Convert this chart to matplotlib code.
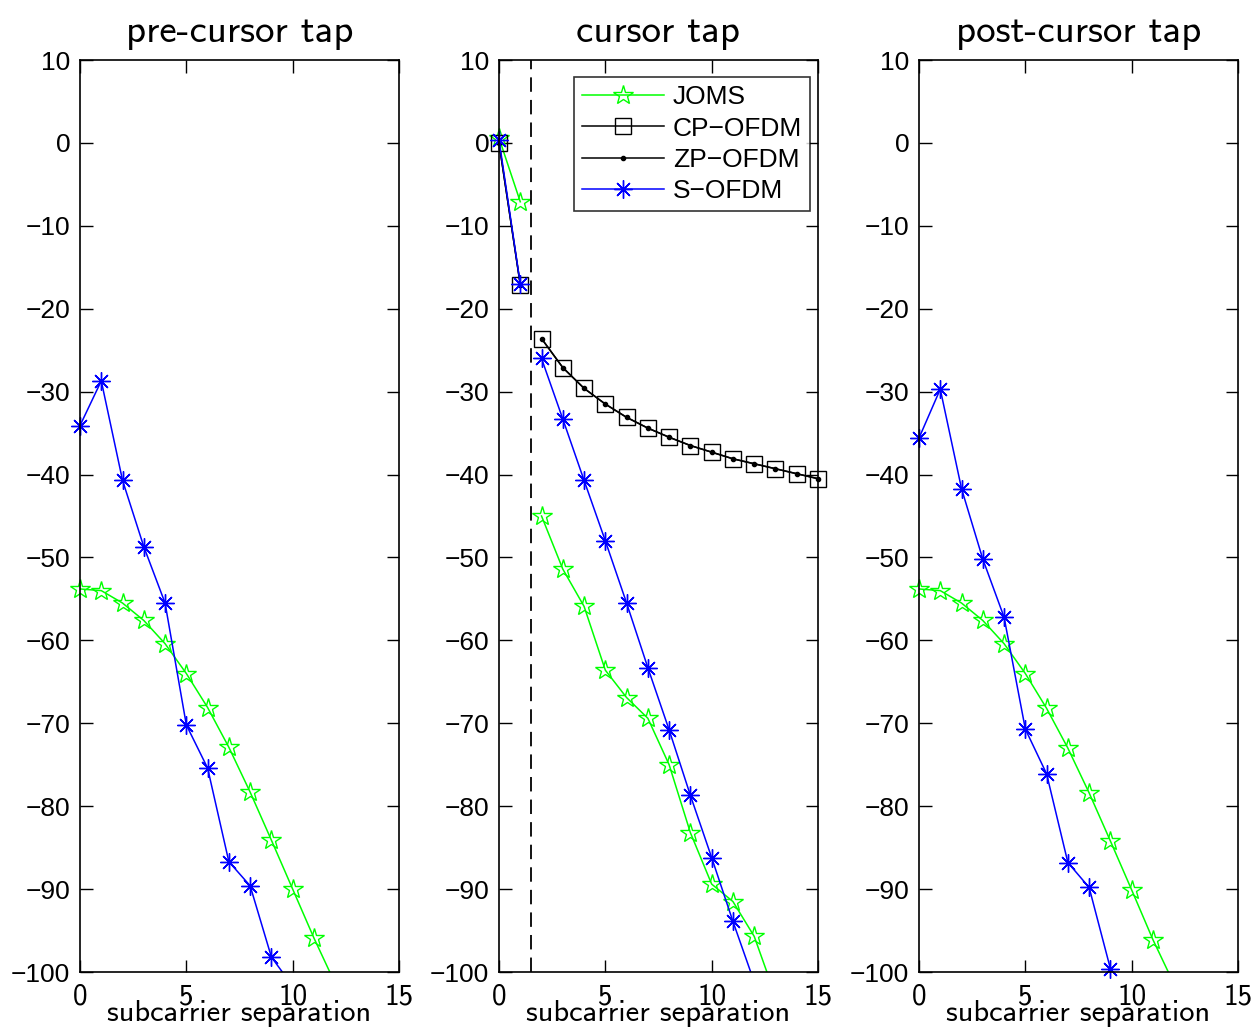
import numpy as np
import matplotlib
matplotlib.use("Agg")
import matplotlib.pyplot as plt
from matplotlib.lines import Line2D

# subcarrier index
sub = np.arange(16)

# pre-cursor tap
pre_joms = [-53.8, -54.0, -55.5, -57.6, -60.4, -64.0, -68.1, -72.9, -78.3, -84.1, -90.0, -95.9, -101.4]
pre_sofdm = [-34.1, -28.7, -40.7, -48.7, -55.5, -70.2, -75.4, -86.7, -89.6, -98.2, -101.7]

# cursor tap
cur_joms = [0.6, -7.1, -45.0, -51.4, -55.9, -63.6, -66.9, -69.4, -75.0, -83.2, -89.4, -91.5, -95.7, -102.9]
cur_cp = [0.0, -17.1, -23.6, -27.1, -29.6, -31.5, -33.1, -34.4, -35.5, -36.5, -37.3, -38.1,
          -38.7, -39.3, -39.9, -40.5]
cur_zp = [0.0, -17.1, -23.6, -27.1, -29.6, -31.5, -33.1, -34.4, -35.5, -36.5, -37.3, -38.1,
          -38.7, -39.3, -39.9, -40.5]
cur_sofdm = [0.4, -17.0, -26.0, -33.3, -40.7, -48.0, -55.5, -63.3, -70.8, -78.7, -86.2, -93.9, -101.2]

# post-cursor tap
post_joms = [-53.8, -54.0, -55.5, -57.6, -60.4, -64.0, -68.2, -73.0, -78.4, -84.2, -90.1, -96.1, -101.5]
post_sofdm = [-35.6, -29.7, -41.7, -50.2, -57.2, -70.7, -76.1, -86.8, -89.8, -99.6, -104.0]

titles = ["pre-cursor tap", "cursor tap", "post-cursor tap"]
labels = ["JOMS", "CP\u2212OFDM", "ZP\u2212OFDM", "S\u2212OFDM"]

cm_font = ["cmss10", "DejaVu Sans"]
tick_font = ["Liberation Sans", "DejaVu Sans"]
asterisk = (8, 2, 0)
ymin, ymax = -100, 10

sty_joms = dict(color=(0, 1, 0), marker="*", ms=15, mfc="none", mew=1.0, lw=1.1)
sty_cp = dict(color="k", marker="s", ms=11, mfc="none", mew=1.0, lw=1.1)
sty_zp = dict(color="k", marker=".", ms=6, lw=1.1)
sty_s = dict(color=(0, 0, 1), marker=asterisk, ms=13, mew=1.0, lw=1.1)

fig = plt.figure(figsize=(12.58, 10.31), dpi=100)
lefts = [80 / 1258, 499 / 1258, 919 / 1258]
axes = [fig.add_axes([l, 59 / 1031, 319 / 1258, 912 / 1031]) for l in lefts]


def plot_seg(ax, y, sty, split=None):
    y = np.asarray(y, dtype=float)
    x = sub[:len(y)]
    line = {k: v for k, v in sty.items() if not k.startswith("m")}
    mark = {k: v for k, v in sty.items() if k != "lw"}
    if split is None:
        ax.plot(x, y, **line)
    else:
        ax.plot(x[:split], y[:split], **line)
        ax.plot(x[split:], y[split:], **line)
    # markers on the frame are drawn whole, like matlab does
    inside = y >= ymin
    ax.plot(x[inside], y[inside], ls="none", clip_on=False, **mark)


plot_seg(axes[0], pre_joms, sty_joms)
plot_seg(axes[0], pre_sofdm, sty_s)

ax = axes[1]
plot_seg(ax, cur_joms, sty_joms, split=2)
plot_seg(ax, cur_cp, sty_cp, split=2)
plot_seg(ax, cur_zp, sty_zp, split=2)
plot_seg(ax, cur_sofdm, sty_s, split=2)
ax.axvline(1.5, color="k", ls=(0, (8, 4.5)), lw=1.3)
handles = [Line2D([], [], **s) for s in (sty_joms, sty_cp, sty_zp, sty_s)]
leg = ax.legend(handles, labels, loc="upper right", bbox_to_anchor=(0.975, 0.981), frameon=True,
                fancybox=False, edgecolor="k", handlelength=3.1, borderpad=0.3,
                labelspacing=0.28, handletextpad=0.35, borderaxespad=0,
                prop={"family": tick_font, "size": 19})
leg.get_frame().set_linewidth(1.2)

plot_seg(axes[2], post_joms, sty_joms)
plot_seg(axes[2], post_sofdm, sty_s)

for ax, t in zip(axes, titles):
    ax.set_xlim(0, 15)
    ax.set_ylim(ymin, ymax)
    ax.set_xticks([0, 5, 10, 15])
    ax.set_yticks(np.arange(-100, 11, 10))
    ax.set_yticklabels([str(v).replace("-", "\u2212") for v in range(-100, 11, 10)],
                       fontfamily=tick_font, fontsize=19)
    ax.set_xticklabels(["0", "5", "10", "15"], fontfamily=cm_font, fontsize=21)
    ax.tick_params(direction="in", length=9, width=1, top=True, right=True, pad=7)
    ax.tick_params(axis="x", pad=8)
    for s in ax.spines.values():
        s.set_linewidth(1.2)
    ax.set_title(t, fontfamily=cm_font, fontsize=28, pad=13)
    ax.set_xlabel("subcarrier separation", fontfamily=cm_font, fontsize=22, labelpad=-7)

fig.savefig("out.png", dpi=100)
